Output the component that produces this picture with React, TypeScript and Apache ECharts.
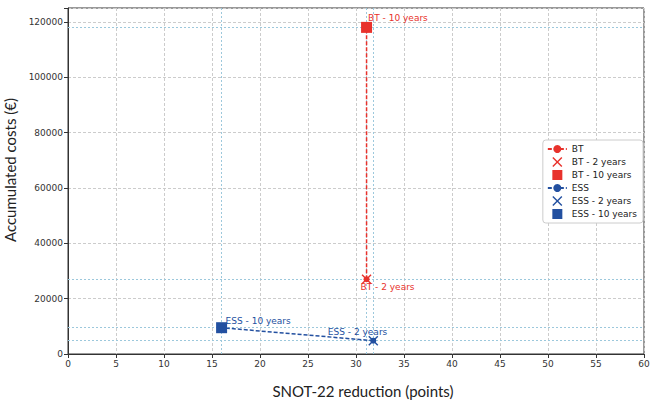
import React, { useEffect, useRef } from "react";
import * as echarts from "echarts";

const btX = [31.1, 31.1];
const btY = [27000, 118000];
const essX = [31.8, 16];
const essY = [4800, 9500];
const pointLabels = ["2 years", "10 years"];
const refX = [16, 31.1, 31.8];
const refY = [118000, 27000, 9500, 4800];
const xTicks = { min: 0, max: 60, interval: 5 };
const yTicks = { min: 0, max: 125000, interval: 20000 };

const RED = "#e8322c";
const BLUE = "#2350a0";
const X_SYMBOL =
  "path://M0,1 L1,0 L5,4 L9,0 L10,1 L6,5 L10,9 L9,10 L5,6 L1,10 L0,9 L4,5 Z";
const SQ_SYMBOL = "path://M0,0 L10,0 L10,10 L0,10 Z";
const FONT = "DejaVu Sans";

export default function App() {
  const ref = useRef<HTMLDivElement>(null);
  useEffect(() => {
    const chart = echarts.init(ref.current!, null, { renderer: "svg" });
    const labelStyle = (color: string) => ({
      show: true,
      color,
      fontSize: 9,
      fontFamily: FONT,
      distance: 0,
    });
    const option: any = {
      animation: false,
      grid: {
        left: 68,
        right: 7,
        top: 8,
        bottom: 46,
        show: true,
        borderColor: "#333",
        borderWidth: 1,
        containLabel: false,
        outerBoundsMode: "none",
      },
      legend: {
        orient: "vertical",
        right: 8,
        top: 140,
        data: ["BT", "BT - 2 years", "BT - 10 years", "ESS", "ESS - 2 years", "ESS - 10 years"],
        itemWidth: 19,
        itemHeight: 10,
        itemGap: 3,
        padding: [4, 6, 4, 4],
        backgroundColor: "#fff",
        borderColor: "#ccc",
        borderWidth: 1,
        borderRadius: 3,
        textStyle: { fontSize: 9, fontFamily: FONT, color: "#222", lineHeight: 10 },
      },
      xAxis: {
        type: "value",
        min: xTicks.min,
        max: xTicks.max,
        interval: xTicks.interval,
        name: "SNOT-22 reduction (points)",
        nameLocation: "middle",
        nameGap: 29,
        nameTextStyle: { fontSize: 15, fontFamily: "Lato", color: "#222", padding: [0, 0, 0, 14] },
        axisLine: { show: true, lineStyle: { color: "#333" } },
        axisTick: { show: true, length: 4, lineStyle: { color: "#333" } },
        axisLabel: { fontSize: 9, fontFamily: FONT, color: "#333", margin: 5 },
        splitLine: { show: true, lineStyle: { color: "#ccc", type: [3, 2] } },
      },
      yAxis: {
        type: "value",
        min: yTicks.min,
        max: yTicks.max,
        interval: yTicks.interval,
        name: "Accumulated costs (€)",
        nameLocation: "middle",
        nameGap: 42,
        nameTextStyle: { fontSize: 15, fontFamily: "Lato", color: "#222", padding: [0, 0, 0, 22] },
        axisLine: { show: true, lineStyle: { color: "#333" } },
        axisTick: { show: true, length: 4, lineStyle: { color: "#333" } },
        axisLabel: {
          fontSize: 9,
          fontFamily: FONT,
          color: "#333",
          margin: 5,
          formatter: (v: number) => (v % yTicks.interval === 0 ? String(v) : ""),
        },
        splitLine: { show: true, lineStyle: { color: "#ccc", type: [3, 2] } },
      },
      series: [
        {
          name: "refs",
          type: "line",
          data: [],
          silent: true,
          z: 1,
          markLine: {
            silent: true,
            z: 1,
            symbol: "none",
            label: { show: false },
            lineStyle: { color: "#9cc8dc", type: [2, 2], width: 1 },
            data: [
              ...refX.map((v) => ({ xAxis: v })),
              ...refY.map((v) => ({ yAxis: v })),
            ],
          },
        },
        {
          name: "BT",
          type: "line",
          data: btX.map((x, i) => [x, btY[i]]),
          color: RED,
          symbol: "circle",
          symbolSize: 6,
          lineStyle: { color: RED, type: [4, 2], width: 1.5 },
          itemStyle: { color: RED },
          z: 3,
        },
        {
          name: "BT - 2 years",
          type: "scatter",
          data: [[btX[0], btY[0]]],
          symbol: X_SYMBOL,
          symbolSize: 10,
          itemStyle: { color: RED, opacity: 1 },
          label: { ...labelStyle(RED), position: "right", offset: [-11, 8], formatter: "BT - " + pointLabels[0] },
          z: 4,
        },
        {
          name: "BT - 10 years",
          type: "scatter",
          data: [[btX[1], btY[1]]],
          symbol: SQ_SYMBOL,
          symbolSize: 11,
          itemStyle: { color: RED, opacity: 1 },
          label: { ...labelStyle(RED), position: "right", offset: [-4, -9], formatter: "BT - " + pointLabels[1] },
          z: 4,
        },
        {
          name: "ESS",
          type: "line",
          data: essX.map((x, i) => [x, essY[i]]),
          color: BLUE,
          symbol: "circle",
          symbolSize: 6,
          lineStyle: { color: BLUE, type: [4, 2], width: 1.5 },
          itemStyle: { color: BLUE },
          z: 3,
        },
        {
          name: "ESS - 2 years",
          type: "scatter",
          data: [[essX[0], essY[0]]],
          symbol: X_SYMBOL,
          symbolSize: 10,
          itemStyle: { color: BLUE, opacity: 1 },
          label: { ...labelStyle(BLUE), position: "left", offset: [19, -9], formatter: "ESS - " + pointLabels[0] },
          z: 4,
        },
        {
          name: "ESS - 10 years",
          type: "scatter",
          data: [[essX[1], essY[1]]],
          symbol: SQ_SYMBOL,
          symbolSize: 11,
          itemStyle: { color: BLUE, opacity: 1 },
          label: { ...labelStyle(BLUE), position: "right", offset: [-1.5, -7], formatter: "ESS - " + pointLabels[1] },
          z: 4,
        },
      ],
    };
    chart.setOption(option);
    return () => chart.dispose();
  }, []);
  return (
    <div
      ref={ref}
      style={{ position: "fixed", left: 0, top: 0, width: 651, height: 400, background: "#fff" }}
    />
  );
}
